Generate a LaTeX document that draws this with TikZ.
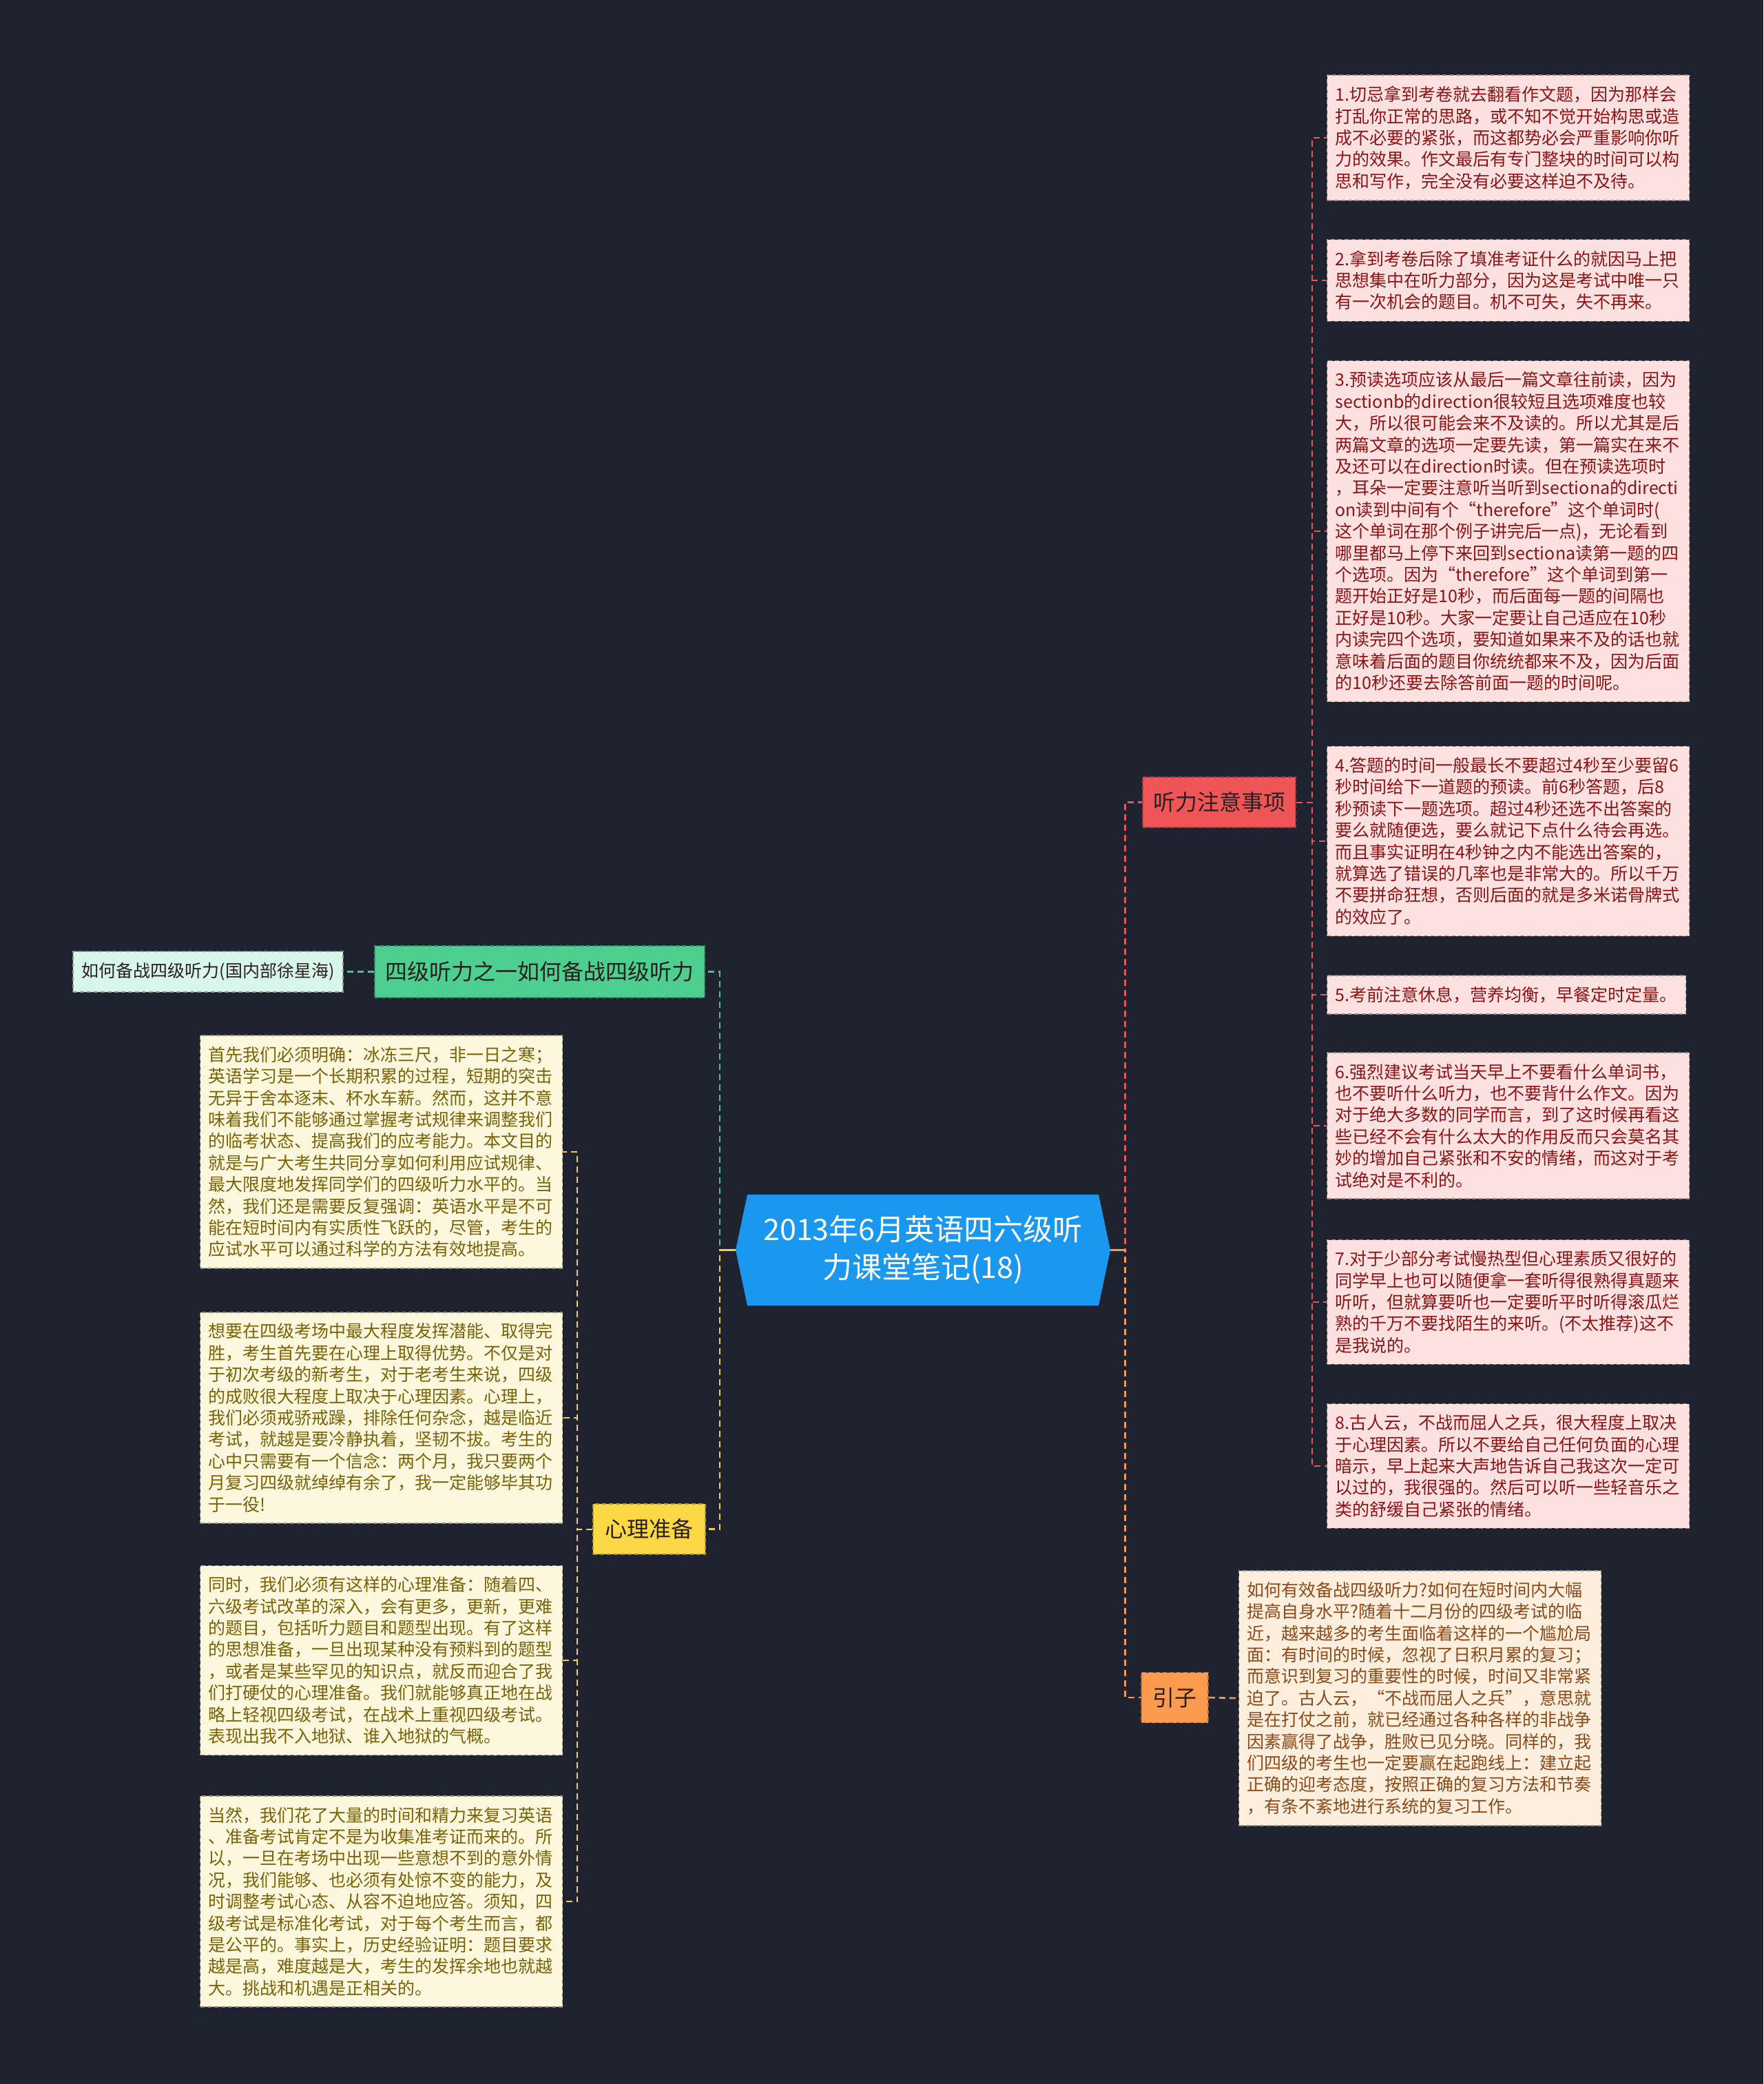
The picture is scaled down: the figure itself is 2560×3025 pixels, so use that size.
\documentclass[tikz,border=0pt]{standalone}
\usepackage{fontspec}
\setmainfont{Noto Sans CJK SC}
\definecolor{bgc}{HTML}{1F2330}
\definecolor{cblue}{HTML}{1A97EE}
\definecolor{redfill}{HTML}{EF5557}
\definecolor{orfill}{HTML}{FC9A50}
\definecolor{yefill}{HTML}{FDD846}
\definecolor{grfill}{HTML}{4CCF8F}
\definecolor{mintfill}{HTML}{D9F6EA}
\definecolor{pinkfill}{HTML}{FDE1E1}
\definecolor{pinktext}{HTML}{8B1414}
\definecolor{peachfill}{HTML}{FDEEDE}
\definecolor{peachtext}{HTML}{8B4A1A}
\definecolor{lyfill}{HTML}{FDF7DD}
\definecolor{lytext}{HTML}{7A6208}
\definecolor{cred}{HTML}{E05A5A}
\definecolor{corange}{HTML}{F09A5A}
\definecolor{cyellow}{HTML}{F3D24A}
\definecolor{cgreen}{HTML}{45C58A}
\definecolor{darktext}{HTML}{2A2020}
\newcommand\notefont{\fontsize{25}{31.4}\selectfont}
\newcommand\branchfont{\fontsize{32}{38}\selectfont}
\newcommand\centerfont{\fontsize{43}{55}\selectfont}
\begin{document}
\begin{tikzpicture}[x=1pt,y=-1pt,
  conn/.style={line width=2.6pt, dash pattern=on 9pt off 6pt},
  notebox/.style={dash pattern=on 6pt off 4pt, line width=1.6pt, align=left,
     inner xsep=12pt, inner ysep=16pt, font=\notefont, text width=502pt},
  rnote/.style={notebox, fill=pinkfill, draw=pinkfill!60!black, text=pinktext},
  pnote/.style={notebox, fill=peachfill, draw=peachfill!60!black, text=peachtext},
  lnote/.style={notebox, fill=lyfill, draw=lyfill!60!black, text=lytext},
  branch/.style={font=\branchfont, minimum height=73pt, inner xsep=15pt,
     dash pattern=on 6pt off 4pt, line width=1.6pt, text=darktext},
]
\fill[bgc] (0,0) rectangle (2560,3025);
\useasboundingbox (0,0) rectangle (2560,3025);

% center
\fill[cblue] (1085,1734) -- (1595,1734) -- (1612,1814.5) -- (1595,1895)
  -- (1085,1895) -- (1068,1814.5) -- cycle;
\node[minimum width=544pt, minimum height=161pt, inner sep=0pt, align=center,
  font=\centerfont, text=white] (center) at (1340,1814.5)
  {2013年6月英语四六级听\\力课堂笔记(18)};

% branches
\node[branch, fill=redfill, draw=redfill!70!black, minimum width=222pt] (tingli) at (1770,1164.5) {听力注意事项};
\node[branch, fill=orfill, draw=orfill!70!black, minimum width=97pt] (yinzi) at (1705.5,2464) {引子};
\node[branch, fill=yefill, draw=yefill!70!black, minimum width=163pt] (xinli) at (942.5,2219.5) {心理准备};
\node[branch, fill=grfill, draw=grfill!70!black, minimum width=479pt, minimum height=75pt] (green) at (783.5,1410.5) {四级听力之一如何备战四级听力};
\node[fill=mintfill, draw=mintfill!60!black, dash pattern=on 6pt off 4pt, line width=1.6pt,
  minimum width=392pt, minimum height=59pt, inner xsep=8pt,
  font=\fontsize{25}{30}\selectfont, text=darktext] (mint) at (302,1410.5) {如何备战四级听力(国内部徐星海)};

% right notes
\node[rnote] (r1) at (2189.5,200) {1.切忌拿到考卷就去翻看作文题，因为那样会\\
打乱你正常的思路，或不知不觉开始构思或造\\
成不必要的紧张，而这都势必会严重影响你听\\
力的效果。作文最后有专门整块的时间可以构\\
思和写作，完全没有必要这样迫不及待。};
\node[rnote] (r2) at (2189.5,407) {2.拿到考卷后除了填准考证什么的就因马上把\\
思想集中在听力部分，因为这是考试中唯一只\\
有一次机会的题目。机不可失，失不再来。};
\node[rnote] (r3) at (2189.5,771) {3.预读选项应该从最后一篇文章往前读，因为\\
sectionb的direction很较短且选项难度也较\\
大，所以很可能会来不及读的。所以尤其是后\\
两篇文章的选项一定要先读，第一篇实在来不\\
及还可以在direction时读。但在预读选项时\\
，耳朵一定要注意听当听到sectiona的directi\\
on读到中间有个“therefore”这个单词时(\\
这个单词在那个例子讲完后一点)，无论看到\\
哪里都马上停下来回到sectiona读第一题的四\\
个选项。因为“therefore”这个单词到第一\\
题开始正好是10秒，而后面每一题的间隔也\\
正好是10秒。大家一定要让自己适应在10秒\\
内读完四个选项，要知道如果来不及的话也就\\
意味着后面的题目你统统都来不及，因为后面\\
的10秒还要去除答前面一题的时间呢。};
\node[rnote] (r4) at (2189.5,1221) {4.答题的时间一般最长不要超过4秒至少要留6\\
秒时间给下一道题的预读。前6秒答题，后8\\
秒预读下一题选项。超过4秒还选不出答案的\\
要么就随便选，要么就记下点什么待会再选。\\
而且事实证明在4秒钟之内不能选出答案的，\\
就算选了错误的几率也是非常大的。所以千万\\
不要拼命狂想，否则后面的就是多米诺骨牌式\\
的效应了。};
\node[rnote, text width=497pt] (r5) at (2187,1444) {5.考前注意休息，营养均衡，早餐定时定量。};
\node[rnote] (r6) at (2189.5,1634) {6.强烈建议考试当天早上不要看什么单词书，\\
也不要听什么听力，也不要背什么作文。因为\\
对于绝大多数的同学而言，到了这时候再看这\\
些已经不会有什么太大的作用反而只会莫名其\\
妙的增加自己紧张和不安的情绪，而这对于考\\
试绝对是不利的。};
\node[rnote] (r7) at (2189.5,1890) {7.对于少部分考试慢热型但心理素质又很好的\\
同学早上也可以随便拿一套听得很熟得真题来\\
听听，但就算要听也一定要听平时听得滚瓜烂\\
熟的千万不要找陌生的来听。(不太推荐)这不\\
是我说的。};
\node[rnote] (r8) at (2189.5,2128) {8.古人云，不战而屈人之兵，很大程度上取决\\
于心理因素。所以不要给自己任何负面的心理\\
暗示，早上起来大声地告诉自己我这次一定可\\
以过的，我很强的。然后可以听一些轻音乐之\\
类的舒缓自己紧张的情绪。};

% yinzi note
\node[pnote] (yz) at (2061.5,2465) {如何有效备战四级听力?如何在短时间内大幅\\
提高自身水平?随着十二月份的四级考试的临\\
近，越来越多的考生面临着这样的一个尴尬局\\
面：有时间的时候，忽视了日积月累的复习；\\
而意识到复习的重要性的时候，时间又非常紧\\
迫了。古人云，“不战而屈人之兵”，意思就\\
是在打仗之前，就已经通过各种各样的非战争\\
因素赢得了战争，胜败已见分晓。同样的，我\\
们四级的考生也一定要赢在起跑线上：建立起\\
正确的迎考态度，按照正确的复习方法和节奏\\
，有条不紊地进行系统的复习工作。};

% left notes
\node[lnote] (l1) at (553.5,1672) {首先我们必须明确：冰冻三尺，非一日之寒；\\
英语学习是一个长期积累的过程，短期的突击\\
无异于舍本逐末、杯水车薪。然而，这并不意\\
味着我们不能够通过掌握考试规律来调整我们\\
的临考状态、提高我们的应考能力。本文目的\\
就是与广大考生共同分享如何利用应试规律、\\
最大限度地发挥同学们的四级听力水平的。当\\
然，我们还是需要反复强调：英语水平是不可\\
能在短时间内有实质性飞跃的，尽管，考生的\\
应试水平可以通过科学的方法有效地提高。};
\node[lnote] (l2) at (553.5,2058) {想要在四级考场中最大程度发挥潜能、取得完\\
胜，考生首先要在心理上取得优势。不仅是对\\
于初次考级的新考生，对于老考生来说，四级\\
的成败很大程度上取决于心理因素。心理上，\\
我们必须戒骄戒躁，排除任何杂念，越是临近\\
考试，就越是要冷静执着，坚韧不拔。考生的\\
心中只需要有一个信念：两个月，我只要两个\\
月复习四级就绰绰有余了，我一定能够毕其功\\
于一役!};
\node[lnote] (l3) at (553.5,2410) {同时，我们必须有这样的心理准备：随着四、\\
六级考试改革的深入，会有更多，更新，更难\\
的题目，包括听力题目和题型出现。有了这样\\
的思想准备，一旦出现某种没有预料到的题型\\
，或者是某些罕见的知识点，就反而迎合了我\\
们打硬仗的心理准备。我们就能够真正地在战\\
略上轻视四级考试，在战术上重视四级考试。\\
表现出我不入地狱、谁入地狱的气概。};
\node[lnote] (l4) at (553.5,2760) {当然，我们花了大量的时间和精力来复习英语\\
、准备考试肯定不是为收集准考证而来的。所\\
以，一旦在考场中出现一些意想不到的意外情\\
况，我们能够、也必须有处惊不变的能力，及\\
时调整考试心态、从容不迫地应答。须知，四\\
级考试是标准化考试，对于每个考生而言，都\\
是公平的。事实上，历史经验证明：题目要求\\
越是高，难度越是大，考生的发挥余地也就越\\
大。挑战和机遇是正相关的。};

% connectors
\draw[conn, cgreen] (center.west) -- ++(-23,0) |- (green.east);
\draw[conn, cyellow] (center.west) -- ++(-23,0) |- (xinli.east);
\draw[conn, cred] (center.east) -- ++(21,0) |- (tingli.west);
\draw[conn, corange] (center.east) -- ++(21,0) |- (yinzi.west);
\draw[cyellow, line width=2.6pt] (center.west) -- ++(-23,0);
\draw[corange, line width=2.6pt] (center.east) -- ++(21,0);
\draw[conn, cgreen] (green.west) -- (mint.east);
\draw[conn, corange] (yinzi.east) -- (yz.west);
\foreach \n in {r1,r2,r3,r4,r5,r6,r7,r8}
  \draw[conn, cred, line width=2pt] (tingli.east) -- ++(23,0) |- (\n.west);
\foreach \n in {l1,l2,l3,l4}
  \draw[conn, cyellow, line width=2pt] (xinli.west) -- ++(-22,0) |- (\n.east);
\end{tikzpicture}
\end{document}
